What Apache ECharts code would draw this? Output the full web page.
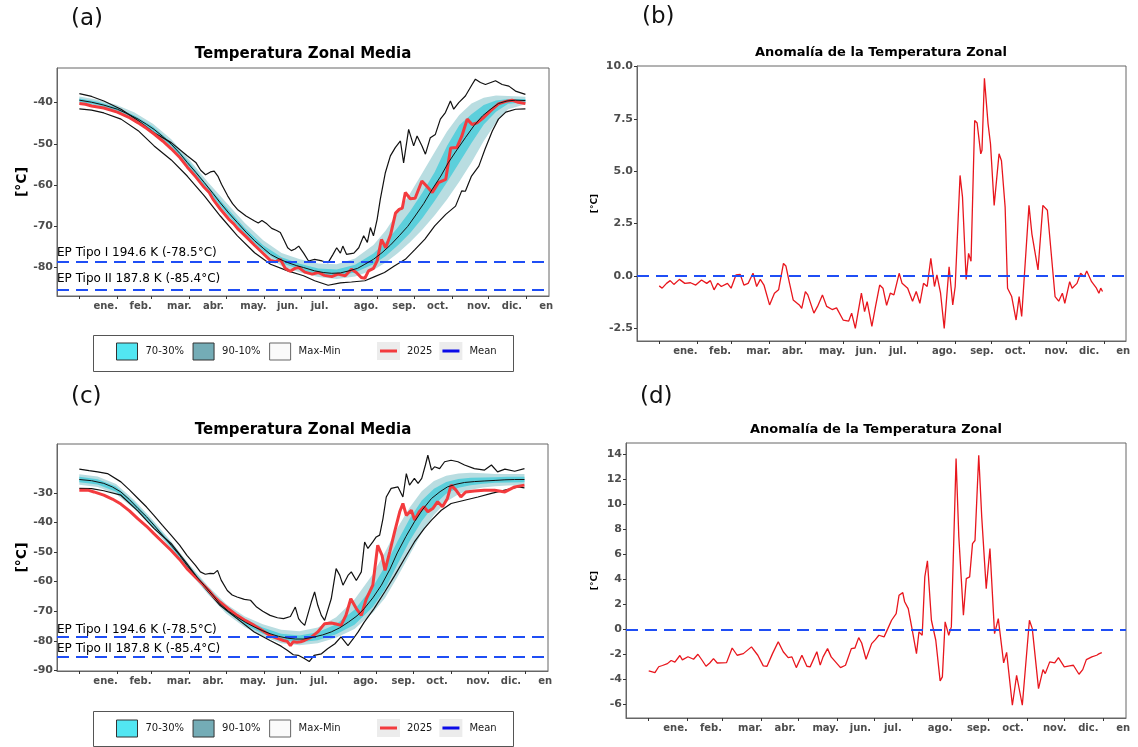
<!DOCTYPE html>
<html><head><meta charset="utf-8">
<script src="https://cdn.jsdelivr.net/npm/echarts@6/dist/echarts.min.js"></script>
<style>html,body{margin:0;padding:0;background:#fff}#c{width:1138px;height:747px}</style>
</head><body><div id="c"></div>
<script>
// ---------- axis labels / ticks ----------
const monthTicks = [0,31,59,90,120,151,181,212,243,273,304,334,365];
const monthLabels = ['ene.','feb.','mar.','abr.','may.','jun.','jul.','ago.','sep.','oct.','nov.','dic.','en'];
const monthLabelDays = [21.5,50,81.5,109.5,142,170,196,234,265,292.5,326,353,381];
const yTicksA = [-80,-70,-60,-50,-40];
const yTicksB = [-2.5,0,2.5,5,7.5,10];
const yTicksC = [-90,-80,-70,-60,-50,-40,-30];
const yTicksD = [-6,-4,-2,0,2,4,6,8,10,12,14];
const epLevels = [-78.5,-85.4];
const epLabels = ['EP Tipo I 194.6 K (-78.5°C)','EP Tipo II 187.8 K (-85.4°C)'];

// ---------- panel (a) ----------
const aMean = [[0,-39.4],[10,-39.9],[20,-40.6],[31,-41.6],[40,-42.8],[48,-44],[55,-45.3],[61,-46.5],[68,-48.2],[75,-50.1],[82,-52.3],[88,-54.5],[95,-56.9],[102,-59.4],[109,-62],[115,-64.3],[122,-66.8],[129,-69.1],[136,-71.4],[143,-73.5],[150,-75.3],[156,-76.8],[163,-77.9],[170,-78.8],[177,-79.5],[183,-80],[192,-80.8],[199,-81.2],[206,-81.4],[213,-81.3],[220,-80.8],[227,-80.2],[233,-79.2],[240,-78],[247,-76.4],[254,-74.5],[261,-72.3],[268,-70],[274,-67.5],[281,-64.5],[288,-61],[295,-57.8],[301,-54.6],[308,-51.5],[315,-48.5],[322,-45.6],[329,-43.2],[336,-41.5],[342,-40.2],[349,-39.6],[356,-39.4],[364,-39.5]];
const a2025 = [[0,-40.2],[5,-40.4],[10,-40.8],[20,-41.3],[31,-42.3],[40,-43.5],[48,-44.9],[55,-46.3],[61,-47.6],[68,-49.3],[75,-51.2],[82,-53.3],[88,-55.6],[95,-58],[102,-60.6],[106,-61.8],[109,-63.4],[115,-65.8],[122,-68.3],[126,-69.4],[129,-70.5],[136,-72.5],[143,-74.6],[150,-76.6],[156,-78.3],[160,-78.6],[164,-78],[168,-80.2],[172,-80.9],[176,-80.2],[179,-80],[184,-81.1],[190,-81.6],[195,-81.2],[200,-81.9],[206,-82.2],[211,-81.6],[217,-82],[222,-80.4],[226,-81.2],[230,-82.4],[233,-82.6],[236,-80.8],[240,-80.2],[243,-78.4],[246.5,-73.2],[250,-75.2],[254,-72],[258,-66.8],[261,-65.9],[263.5,-65.6],[266,-61.8],[270,-63.3],[274,-63.2],[279.5,-59],[283.5,-60.3],[288,-61.8],[293,-59.4],[299,-58.6],[303,-51],[308,-50.9],[312,-48.2],[316.5,-44],[320.5,-45.3],[324.5,-44.9],[330,-43.6],[335.5,-42],[342,-40.3],[348,-39.7],[353,-39.4],[358,-39.9],[364,-40.2]];
const aMax = [[0,-37.8],[10,-38.5],[20,-39.6],[34,-41.6],[48,-44.4],[61,-47.3],[75,-49.7],[88,-52.9],[95,-54.5],[99,-56.4],[103,-57.5],[107,-56.8],[110,-56.6],[113,-57.8],[116,-59.8],[121,-62.6],[125,-64.5],[129,-65.9],[136,-67.5],[143,-68.7],[146,-69.2],[149,-68.6],[153,-69.4],[157,-70.5],[161,-71],[164,-71.5],[167,-73.3],[170,-75.2],[173,-75.9],[176,-75.5],[179,-74.8],[183,-76.5],[187,-78.4],[192,-78],[198,-78.4],[203,-78.8],[207,-76.8],[210,-75.2],[213,-76.5],[215,-74.8],[218,-76.8],[224,-76.5],[228,-75.2],[232,-72.3],[235,-73.9],[237.5,-70.3],[240,-72.3],[243,-68.3],[245.6,-63.4],[249.7,-57],[253.8,-52.9],[257.8,-50.9],[262,-49.3],[264.6,-54.6],[268.7,-46.5],[272.8,-50.5],[275.6,-48.1],[279.6,-50.5],[282.4,-52.5],[286.4,-48.5],[290.5,-47.7],[294.6,-44],[298.7,-42.4],[302.8,-39.6],[305.5,-41.6],[309.6,-40],[315,-38.4],[320.5,-35.6],[323.2,-34.3],[327.3,-35.1],[331.4,-35.6],[339.6,-34.7],[345,-35.6],[350.5,-36],[355.9,-37.2],[364,-38]];
const aMin = [[0,-41.5],[10,-41.8],[20,-42.5],[34,-44],[48,-46.8],[61,-50.5],[75,-53.9],[88,-57.8],[102,-62.6],[115,-67.5],[129,-72.3],[143,-76.4],[156,-79.2],[170,-80.8],[183,-82],[192,-83.2],[203,-84.3],[213,-83.7],[222,-83.5],[233,-83.2],[241,-82.2],[249,-81.2],[257,-79.6],[266,-78],[274,-75.6],[282,-73.1],[290,-69.9],[299,-67.1],[307,-65.1],[312,-61.4],[315,-61.5],[320,-57.8],[326,-55.4],[331,-51.3],[337,-46.9],[342,-44],[348,-42.3],[356,-41.6],[364,-41.5]];
const bandDays = [0,15,30,45,60,75,90,105,120,135,150,165,180,195,210,225,240,250,260,270,280,290,300,310,320,330,340,350,364];
const aP90 = [-38.5,-39.3,-40.5,-42.4,-45.1,-48.9,-53.9,-59.3,-64.3,-69.2,-73.4,-76.5,-78,-79,-79.2,-77.8,-74.5,-71,-66.5,-62,-57,-52,-47,-43,-40.2,-38.8,-38.3,-38.4,-38.6];
const aP10 = [-40.3,-41.1,-42.4,-44.5,-47.4,-51.3,-56.4,-62,-67.5,-72.6,-76.8,-79.6,-81.2,-82.3,-82.8,-82.2,-80.6,-78.8,-76.5,-73.8,-70.8,-67.3,-63.5,-59.2,-54.5,-49.3,-44.8,-41.6,-40.4];
const aP70 = [-39,-39.8,-41.1,-43.1,-45.8,-49.6,-54.6,-60.2,-65.4,-70.4,-74.6,-77.5,-79.1,-80.2,-80.5,-79.3,-76.6,-73.8,-70.2,-66.3,-61.8,-56.8,-50.5,-45.5,-42.8,-40.6,-39.5,-39.1,-39.1];
const aP30 = [-39.8,-40.6,-41.9,-43.9,-46.8,-50.6,-55.8,-61.4,-66.8,-71.8,-76,-78.9,-80.5,-81.6,-82,-81.2,-79.2,-77.2,-74.6,-71.6,-68,-63.8,-59.3,-54.6,-49.8,-45.3,-42.2,-40.3,-39.9];

// ---------- panel (b) ----------
const bAnom = [[0,-0.47],[2.4,-0.58],[6,-0.35],[9,-0.22],[12,-0.4],[16.6,-0.16],[21,-0.35],[25.7,-0.32],[30,-0.43],[34.7,-0.19],[39,-0.35],[42,-0.22],[45,-0.66],[48,-0.35],[51,-0.5],[56,-0.35],[59,-0.58],[63,0.05],[66.5,0.08],[69.5,-0.43],[73,-0.35],[77,0.13],[80,-0.5],[83,-0.16],[86,-0.43],[90.6,-1.38],[94.6,-0.82],[98,-0.66],[102,0.6],[104,0.48],[107,-0.35],[110,-1.14],[115,-1.38],[117,-1.54],[120,-0.74],[122,-0.9],[127,-1.77],[130,-1.45],[134,-0.9],[137.5,-1.45],[142,-1.6],[145.6,-1.52],[151,-2.1],[155.6,-2.15],[158,-1.77],[161,-2.5],[166,-0.82],[168.6,-1.7],[170.7,-1.22],[174.6,-2.4],[177.6,-1.45],[181,-0.43],[183.7,-0.58],[186.7,-1.4],[189.7,-0.82],[192.7,-0.9],[197,0.13],[199.4,-0.35],[204,-0.58],[208,-1.2],[211,-0.74],[214,-1.3],[217,-0.35],[220,-0.5],[223,0.84],[226,-0.5],[228,0.05],[231,-0.82],[234,-2.5],[238,0.44],[241,-1.38],[243,-0.5],[247,4.8],[249,3.77],[252,-0.16],[254,1.08],[256,0.7],[259,7.42],[261,7.3],[264,5.83],[265,6.0],[267,9.43],[270,7.26],[272,6.3],[275,3.37],[279,5.83],[281,5.5],[284,3.3],[286,-0.58],[289.4,-0.98],[293,-2.1],[295.5,-0.98],[297.6,-1.93],[303.6,3.37],[306,2.0],[311,0.29],[315,3.37],[318.7,3.14],[325,-0.98],[328,-1.2],[331,-0.82],[333,-1.3],[337,-0.27],[339,-0.58],[343,-0.35],[346,0.13],[349,-0.03],[351,0.24],[355,-0.27],[359,-0.58],[361,-0.82],[362.5,-0.58],[364,-0.74]];

// ---------- panel (c) ----------
const cMean = [[0,-25.5],[10,-25.9],[20,-26.8],[27,-28],[34,-29.7],[41,-32.3],[48,-35.3],[55,-38.1],[61,-40.9],[68,-44.3],[75,-47.7],[82,-51.1],[88,-54.5],[95,-57.9],[102,-61.2],[109,-64.5],[115,-67.5],[122,-70],[129,-72],[136,-73.8],[143,-75.3],[150,-76.6],[156,-77.6],[163,-78.5],[170,-79.1],[177,-79.4],[183,-79.4],[192,-78.7],[199,-78],[206,-77],[213,-75.6],[220,-73.7],[227,-71.6],[233,-69.1],[240,-65.5],[247,-61.2],[254,-55.8],[260,-50.3],[267,-44.8],[274,-39.8],[281,-35.5],[288,-31.9],[295,-29.6],[301,-28],[308,-27.1],[315,-26.5],[323,-26.2],[331,-26],[340,-25.8],[348,-25.6],[356,-25.5],[364,-25.5]];
const c2025 = [[0,-29.1],[7,-29.1],[12,-29.7],[20,-30.8],[27,-32.1],[34,-33.8],[41,-36.1],[48,-38.8],[55,-41.3],[61,-43.8],[68,-46.6],[75,-49.4],[82,-52.5],[88,-55.6],[95,-58.5],[102,-61.3],[106,-63],[110,-65],[115,-66.9],[122,-69.2],[129,-71.4],[136,-73.2],[143,-74.8],[150,-76.6],[156,-78.2],[162,-79.2],[167,-79.9],[170,-80.2],[172.6,-81.6],[175,-80.3],[178,-80.5],[181,-80.3],[184,-79.9],[190,-78.7],[195,-77],[200.6,-74.2],[206,-74],[210,-74.3],[214,-74.8],[218,-71.4],[222,-65.8],[226.5,-69.1],[230.6,-71.4],[234.7,-65.8],[240,-61.2],[244,-47.7],[247.5,-51.1],[250,-56.2],[253.8,-50],[257.8,-43.2],[262,-36.4],[264.6,-33.6],[267.4,-37.6],[271.5,-35.9],[274.2,-39.2],[278,-36.4],[281.8,-34.7],[285,-36.4],[289,-35.3],[293,-33],[297,-34.7],[301,-31.9],[304,-27.4],[308,-29.1],[312,-31.4],[316,-29.7],[323,-29.4],[331,-29.1],[339.6,-29.1],[348,-29.7],[356,-28],[364,-27.4]];
const cMax = [[0,-22],[8,-22.5],[15,-22.9],[23,-23.5],[34,-26.3],[41,-29],[48,-31.9],[55,-34.8],[61,-37.6],[68,-41],[75,-44.3],[82,-47.7],[88,-51.1],[95,-54.5],[99,-56.7],[103,-57.5],[107,-57.2],[110,-57.3],[113,-56.2],[116,-59.5],[121,-63],[125,-64.5],[129,-65.2],[135,-66],[140,-66.3],[145,-68.6],[150,-70],[156,-71.4],[162,-72.2],[167,-72.5],[172.6,-71.8],[176.6,-68.6],[179.3,-72.5],[181.5,-73.7],[184.3,-74.8],[189.7,-66.9],[192.4,-63.5],[195,-68],[197.9,-71.4],[200.6,-73.1],[206,-65.8],[210,-55.6],[213,-57.9],[215.6,-61.2],[219.7,-57.9],[222.4,-56.7],[226.5,-59.6],[230.6,-56.7],[233.3,-46.6],[236,-48.8],[240,-46.6],[242.8,-44.9],[245.6,-44.3],[248.3,-38.7],[251,-31.4],[255,-28.5],[260.6,-28],[264.6,-31.4],[267.4,-23.5],[270,-27.4],[274,-25.1],[277,-26.8],[280,-25.1],[283,-20.6],[285,-17.3],[288,-22.3],[290.5,-21.2],[294.6,-21.8],[298.7,-19.5],[304,-19],[309.6,-19.5],[315,-20.6],[323,-21.8],[331.4,-22.3],[337,-20.6],[342,-22.9],[348,-22],[356,-22.7],[364,-21.8]];
const cMin = [[0,-28.5],[10,-28.6],[20,-29.3],[34,-30.8],[48,-36.2],[61,-42],[75,-47.1],[88,-53.9],[102,-61.8],[115,-68],[129,-72.5],[143,-77],[156,-79.9],[165,-81.8],[170,-83.2],[175,-84.7],[179,-84.9],[184,-86],[188,-87],[192,-84.9],[198,-84.4],[203,-82.7],[209,-81],[214,-78.7],[219.7,-81.6],[224,-79.3],[228,-77],[233,-73.7],[241,-69.1],[249.7,-63.5],[258,-57.9],[266,-52.2],[274,-46.6],[282,-42.1],[288,-39.2],[296,-35.9],[304,-33.6],[315,-32.5],[326,-31.4],[337,-30.2],[348,-29.1],[359,-28],[364,-28.3]];
const cP90 = [-23.7,-24.5,-27,-32.5,-39.2,-46.4,-54.2,-61.4,-67.6,-71.7,-74.4,-76.3,-76.8,-75.5,-72,-66,-57.5,-50,-42,-35,-29.5,-26,-24.2,-23.5,-23.2,-23.4,-23.6,-23.6,-23.6];
const cP10 = [-27.3,-28,-30.4,-35.5,-41.8,-49,-56.8,-64.2,-70.8,-75.3,-78.5,-80.8,-81.5,-80.8,-79,-76,-70.5,-65.5,-58.5,-51,-43.5,-37.5,-33,-30.5,-29,-28.2,-27.8,-27.5,-27.4];
const cP70 = [-24.6,-25.4,-27.9,-33.3,-39.9,-47,-54.8,-62.1,-68.5,-72.7,-75.5,-77.6,-78.2,-77.1,-74.4,-69.5,-61.8,-54.8,-46.5,-38.8,-32.6,-28.6,-26.3,-25.3,-24.9,-24.8,-24.7,-24.6,-24.6];
const cP30 = [-26.4,-27.2,-29.6,-34.8,-41.1,-48.3,-56.2,-63.5,-70,-74.5,-77.6,-79.8,-80.5,-79.8,-77.8,-74.6,-68.6,-62.6,-54.3,-46.4,-39.6,-34.2,-30.3,-28.3,-27.4,-26.9,-26.6,-26.5,-26.4];

// ---------- panel (d) ----------
const dAnom = [[0,-3.33],[5,-3.47],[8,-3.0],[11,-2.9],[15,-2.75],[18,-2.5],[21,-2.63],[25,-2.1],[27,-2.45],[31.5,-2.2],[36,-2.4],[39.5,-2.0],[43,-2.5],[46,-2.96],[49,-2.7],[52,-2.35],[55,-2.7],[62.5,-2.67],[67,-1.5],[71,-2.08],[76,-1.95],[82.5,-1.41],[87.6,-2.08],[92,-2.93],[95,-2.96],[99.4,-1.95],[104,-1.0],[108,-1.8],[112,-2.27],[115,-2.21],[118.5,-3.07],[123,-2.08],[127,-2.96],[129.6,-3.01],[135,-1.8],[137.7,-2.87],[140,-2.21],[143.6,-1.55],[146.5,-2.21],[154,-3.07],[158,-2.88],[162.7,-1.55],[165.6,-1.5],[168.6,-0.67],[171,-1.1],[174.5,-2.4],[179,-1.15],[182,-0.83],[184.8,-0.48],[189,-0.61],[192,0.05],[195,0.72],[198.7,1.25],[201,2.72],[204,2.93],[205.5,2.2],[208.4,1.65],[211.4,0.05],[215,-1.95],[217,-0.21],[219.6,-0.48],[221.7,4.19],[223.8,5.47],[227,0.72],[230.5,-0.88],[234,-4.13],[235.8,-3.81],[238,0.59],[240.9,-0.48],[243,0.19],[246.8,13.65],[249,7.4],[252.7,1.12],[255,4.05],[257.7,4.19],[260,6.85],[262,7.1],[265,13.92],[267.4,8.99],[271,3.25],[274,6.45],[277.7,-0.35],[280.7,0.85],[285,-2.69],[287.4,-1.85],[292,-6.08],[295.4,-3.68],[300,-6.08],[305.7,0.72],[308,0.05],[313,-4.75],[316.6,-3.23],[318.4,-3.55],[322,-2.61],[326,-2.69],[329,-2.27],[333.7,-3.01],[338,-2.93],[341,-2.88],[345.5,-3.6],[348.5,-3.23],[351.4,-2.43],[355.8,-2.21],[359.7,-2.08],[361.8,-1.95],[363.8,-1.87]];

// ---------- styling ----------
const FONT = 'DejaVu Sans';
const C_INNER = '#5ccfdb', C_OUTER = '#b9dde1', C_RED = '#f33b3e', C_ANOM = '#e8161d', C_BLUE = '#1f4ef5';

const grids = [
  {left:57, top:68, width:492, height:228},
  {left:637, top:66, width:489, height:275},
  {left:57, top:444, width:491, height:227},
  {left:626, top:443, width:500, height:275}
].map(g => Object.assign(g, {show:true, borderColor:'#666', borderWidth:1, backgroundColor:'#fff', containLabel:false}));

function xAx(gi){
  return {type:'value', gridIndex:gi, min:-18.25, max:383.25,
    axisLine:{show:true, onZero:false, lineStyle:{color:'#666', width:1}},
    splitLine:{show:false},
    axisTick:{show:true, customValues:monthTicks, length:3, lineStyle:{color:'#333'}},
    axisLabel:{customValues:monthLabelDays, margin:5,
      formatter:(v,i)=>{const k=monthLabelDays.indexOf(v); return k>=0?monthLabels[k]:(monthLabels[i]||'');},
      fontFamily:FONT, fontWeight:'bold', fontSize:10, color:'#4d4d4d'}};
}
function yAx(gi, min, max, ticks, fmt, nameSize, nameGap){
  return {type:'value', gridIndex:gi, min, max,
    name:'[°C]', nameLocation:'middle', nameRotate:90, nameGap,
    nameTextStyle:{fontFamily:FONT, fontWeight:'bold', fontSize:nameSize, color:'#000'},
    axisLine:{show:true, onZero:false, lineStyle:{color:'#666', width:1}},
    splitLine:{show:false},
    axisTick:{show:true, customValues:ticks, length:3, lineStyle:{color:'#333'}},
    axisLabel:{customValues:ticks, margin:4, formatter:fmt,
      fontFamily:FONT, fontWeight:'bold', fontSize:11, color:'#4d4d4d'}};
}
function lineS(name, data, gi, color, width, z){
  return {type:'line', name, data, xAxisIndex:gi, yAxisIndex:gi, symbol:'none', showSymbol:false,
    lineStyle:{color, width}, itemStyle:{color}, z, silent:true, animation:false};
}
function bandS(name, days, lo, hi, gi, color, z){
  return {type:'custom', name, xAxisIndex:gi, yAxisIndex:gi, z, silent:true, animation:false,
    data: days.map((d,i)=>[d, lo[i], hi[i]]), encode:{x:0, y:[1,2]},
    itemStyle:{color},
    renderItem:(params, api)=>{
      if (params.dataIndexInside !== 0) return null;
      const top = days.map((d,i)=>api.coord([d, hi[i]]));
      const bot = days.map((d,i)=>api.coord([d, lo[i]])).reverse();
      return {type:'polygon', shape:{points: top.concat(bot)}, style:{fill:color}};
    }};
}
function epLine(gi, distI, distII){
  return {type:'line', xAxisIndex:gi, yAxisIndex:gi, data:[], silent:true, animation:false, z:6,
    markLine:{symbol:'none', silent:true, animation:false,
      lineStyle:{color:C_BLUE, type:[12,7], width:2},
      data: epLevels.map((v,k)=>({yAxis:v, label:{show:true, position:'insideStartTop', formatter:epLabels[k],
        distance:[0, k===0?distI:distII], fontFamily:FONT, fontSize:12, color:'#000'}}))}};
}
function zeroLine(gi){
  return {type:'line', xAxisIndex:gi, yAxisIndex:gi, data:[], silent:true, animation:false, z:3,
    markLine:{symbol:'none', silent:true, animation:false, label:{show:false},
      lineStyle:{color:C_BLUE, type:[12,7], width:2}, data:[{yAxis:0}]}};
}
function climPanel(gi, mean, y25, mx, mn, p10, p90, p30, p70){
  return [
    bandS('90-10%', bandDays, p10, p90, gi, C_OUTER, 1),
    bandS('70-30%', bandDays, p30, p70, gi, C_INNER, 2),
    lineS('Max-Min', mx, gi, '#111', 1.2, 3),
    lineS('Max-Min', mn, gi, '#111', 1.2, 3),
    lineS('2025', y25, gi, C_RED, 3, 4),
    lineS('Mean', mean, gi, '#111', 1, 5)
  ];
}

const intFmt = v => String(Math.round(v));
const series = [].concat(
  climPanel(0, aMean, a2025, aMax, aMin, aP10, aP90, aP30, aP70),
  [epLine(0, 2, 5)],
  [lineS('anom', bAnom, 1, C_ANOM, 1.3, 4), zeroLine(1)],
  climPanel(2, cMean, c2025, cMax, cMin, cP10, cP90, cP30, cP70),
  [epLine(2, 0, 2)],
  [lineS('anom', dAnom, 3, C_ANOM, 1.3, 4), zeroLine(3)]
);

function legends(cy){
  const ts = {fontFamily:FONT, fontSize:10, color:'#1a1a1a', padding:[0,0,0,3]};
  return [
    {left:116, top:cy-8.5, padding:0, orient:'horizontal', itemWidth:21, itemHeight:17, itemGap:8.5, selectedMode:false, z:5,
     textStyle:ts,
     data:[
      {name:'70-30%', icon:'rect', itemStyle:{color:'#52e6f2', borderColor:'#333', borderWidth:1}},
      {name:'90-10%', icon:'rect', itemStyle:{color:'#74acb6', borderColor:'#333', borderWidth:1}},
      {name:'Max-Min', icon:'rect', itemStyle:{color:'#fafafa', borderColor:'#666', borderWidth:1}, lineStyle:{color:'#666', width:1}}
     ]},
    {left:380, top:cy-5, padding:0, orient:'horizontal', itemWidth:17, itemHeight:3, itemGap:10, selectedMode:false, z:5,
     textStyle:Object.assign({}, ts, {padding:[0,0,0,5]}),
     data:[
      {name:'2025', icon:'rect', itemStyle:{color:C_RED, borderWidth:0}, lineStyle:{width:0}},
      {name:'Mean', icon:'rect', itemStyle:{color:'#0a0ae8', borderWidth:0}, lineStyle:{width:0}}
     ]}
  ];
}

function legendDecor(cy, top, bottom){
  return [
    {type:'rect', z:0, shape:{x:93.5, y:top+0.5, width:420, height:bottom-top}, style:{fill:'none', stroke:'#555', lineWidth:1}},
    {type:'rect', z:0, shape:{x:377, y:cy-9, width:23, height:18}, style:{fill:'#ececec'}},
    {type:'rect', z:0, shape:{x:439.4, y:cy-9, width:23, height:18}, style:{fill:'#ececec'}}
  ];
}

const titleStyle = (size)=>({fontFamily:FONT, fontWeight:'bold', fontSize:size, color:'#000'});
const option = {
  animation:false,
  backgroundColor:'#fff',
  title:[
    {text:'Temperatura Zonal Media', left:303, top:47, textAlign:'center', textStyle:titleStyle(15), padding:0},
    {text:'Anomalía de la Temperatura Zonal', left:881, top:46, textAlign:'center', textStyle:titleStyle(13), padding:0},
    {text:'Temperatura Zonal Media', left:303, top:423, textAlign:'center', textStyle:titleStyle(15), padding:0},
    {text:'Anomalía de la Temperatura Zonal', left:876, top:423, textAlign:'center', textStyle:titleStyle(13), padding:0}
  ],
  grid: grids,
  xAxis:[xAx(0), xAx(1), xAx(2), xAx(3)],
  yAxis:[
    yAx(0, -86.9, -31.6, yTicksA, intFmt, 14, 28),
    yAx(1, -3.1, 10.02, yTicksB, v=>v.toFixed(1), 9, 38),
    yAx(2, -90.2, -13.5, yTicksC, intFmt, 14, 28),
    yAx(3, -7.1, 14.9, yTicksD, intFmt, 9, 27)
  ],
  legend: legends(351).concat(legends(728)),
  graphic:[
    ...legendDecor(351, 335, 371),
    ...legendDecor(728, 711, 746),
    {type:'text', left:71, top:8, style:{text:'(a)', font:'23px "DejaVu Sans"', fill:'#111'}},
    {type:'text', left:642, top:6, style:{text:'(b)', font:'23px "DejaVu Sans"', fill:'#111'}},
    {type:'text', left:71, top:386, style:{text:'(c)', font:'23px "DejaVu Sans"', fill:'#111'}},
    {type:'text', left:640, top:386, style:{text:'(d)', font:'23px "DejaVu Sans"', fill:'#111'}}
  ],
  series
};
const chart = echarts.init(document.getElementById('c'), null, {renderer:'canvas'});
chart.setOption(option);
</script></body></html>
